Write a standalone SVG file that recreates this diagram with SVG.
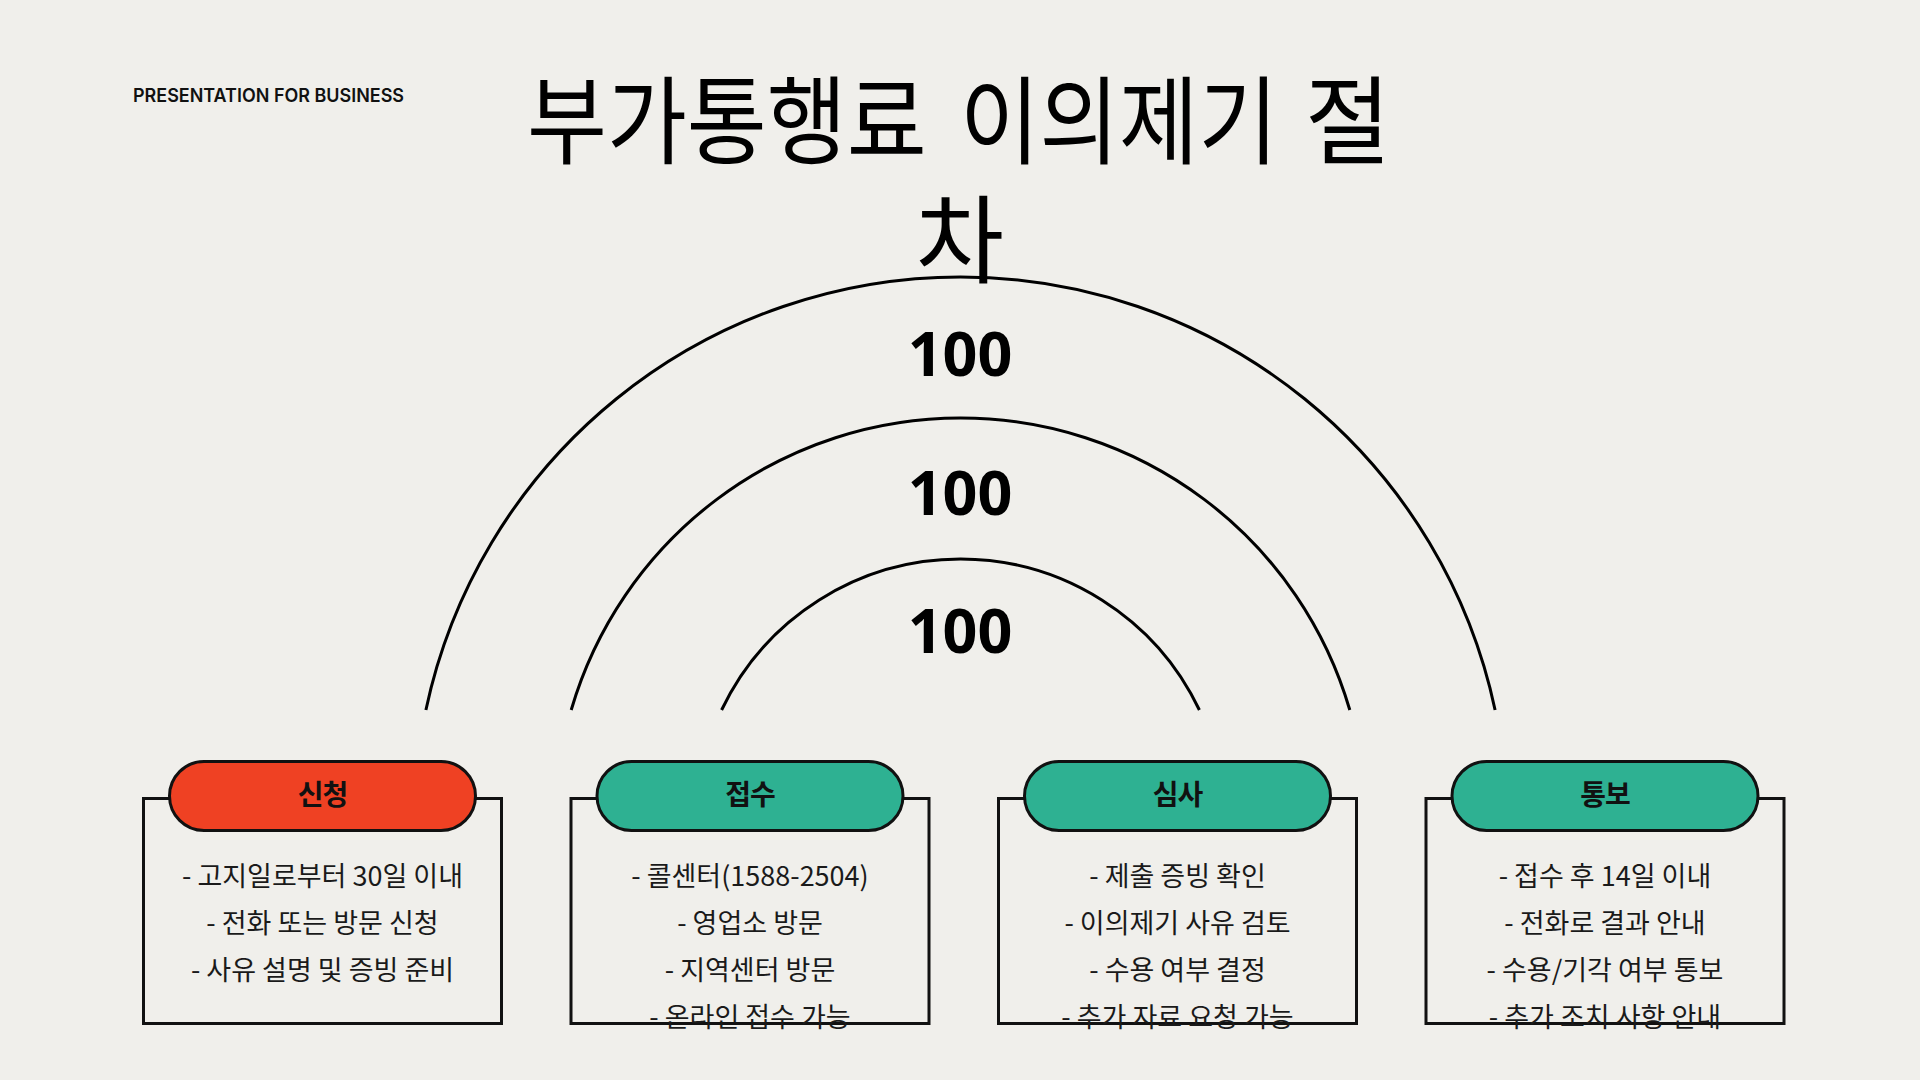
<svg xmlns="http://www.w3.org/2000/svg" width="1920" height="1080" viewBox="0 0 1920 1080">
<style>
.bg{fill:#F0EFEB}
.arc{fill:none;stroke:#000;stroke-width:3}
.box{fill:none;stroke:#111;stroke-width:3}
.pill{stroke:#111;stroke-width:3}
.red{fill:#EF4123}
.green{fill:#2EB192}
.lbl{font-family:"Noto Sans CJK KR","Noto Sans",sans-serif;font-weight:700;font-size:28px;fill:#111;text-anchor:middle;letter-spacing:-1px}
.body{font-family:"Noto Sans CJK KR","Noto Sans",sans-serif;font-weight:400;font-size:27px;fill:#1a1a1a;text-anchor:middle}
.num{font-family:"Noto Sans","Open Sans",sans-serif;font-weight:700;font-size:61px;fill:#000;text-anchor:middle}
.title{font-family:"Noto Sans CJK KR",sans-serif;font-weight:400;font-size:96px;fill:#000}
.sub{font-family:Inter,"Noto Sans",sans-serif;font-weight:600;font-size:19px;fill:#111}
</style>
<rect class="bg" x="0" y="0" width="1920" height="1080"/>
<text class="sub" x="133" y="102" textLength="271" lengthAdjust="spacingAndGlyphs">PRESENTATION FOR BUSINESS</text>
<g id="title">
<text class="title" transform="translate(527 156) scale(0.905 1)" x="0" y="0">부가통행료</text>
<text class="title" transform="translate(960 156) scale(0.9 1)" x="0" y="0">이의제기</text>
<text class="title" transform="translate(1305 156) scale(0.97 1)" x="0" y="0">절</text>
<text class="title" x="960" y="275" text-anchor="middle">차</text>
</g>
<g id="connectors">
<path class="arc" d="M425.9 710 A546.5 546.5 0 0 1 1495.1 710"/>
<path class="arc" d="M571.2 710 A405.5 405.5 0 0 1 1349.8 710"/>
<path class="arc" d="M721.6 710 A264.5 264.5 0 0 1 1199.4 710"/>
</g>
<g id="values">
<text class="num" x="960" y="376">100</text>
<text class="num" x="960" y="515">100</text>
<text class="num" x="960" y="653">100</text>
</g>
<g id="node-apply">
<rect class="box" x="143.5" y="798.5" width="358" height="225"/>
<rect class="pill red" x="169.5" y="761.5" width="306" height="69" rx="34.5"/>
<text class="lbl" x="322.5" y="805">신청</text>
<text class="body" x="322.5" y="886">- 고지일로부터 30일 이내</text>
<text class="body" x="322.5" y="933">- 전화 또는 방문 신청</text>
<text class="body" x="322.5" y="980">- 사유 설명 및 증빙 준비</text>
</g>
<g id="node-receive">
<rect class="box" x="571" y="798.5" width="358" height="225"/>
<rect class="pill green" x="597" y="761.5" width="306" height="69" rx="34.5"/>
<text class="lbl" x="750" y="805">접수</text>
<text class="body" x="750" y="886">- 콜센터(1588-2504)</text>
<text class="body" x="750" y="933">- 영업소 방문</text>
<text class="body" x="750" y="980">- 지역센터 방문</text>
<text class="body" x="750" y="1027">- 온라인 접수 가능</text>
</g>
<g id="node-review">
<rect class="box" x="998.5" y="798.5" width="358" height="225"/>
<rect class="pill green" x="1024.5" y="761.5" width="306" height="69" rx="34.5"/>
<text class="lbl" x="1177.5" y="805">심사</text>
<text class="body" x="1177.5" y="886">- 제출 증빙 확인</text>
<text class="body" x="1177.5" y="933">- 이의제기 사유 검토</text>
<text class="body" x="1177.5" y="980">- 수용 여부 결정</text>
<text class="body" x="1177.5" y="1027">- 추가 자료 요청 가능</text>
</g>
<g id="node-notify">
<rect class="box" x="1426" y="798.5" width="358" height="225"/>
<rect class="pill green" x="1452" y="761.5" width="306" height="69" rx="34.5"/>
<text class="lbl" x="1605" y="805">통보</text>
<text class="body" x="1605" y="886">- 접수 후 14일 이내</text>
<text class="body" x="1605" y="933">- 전화로 결과 안내</text>
<text class="body" x="1605" y="980">- 수용/기각 여부 통보</text>
<text class="body" x="1605" y="1027">- 추가 조치 사항 안내</text>
</g>
</svg>
